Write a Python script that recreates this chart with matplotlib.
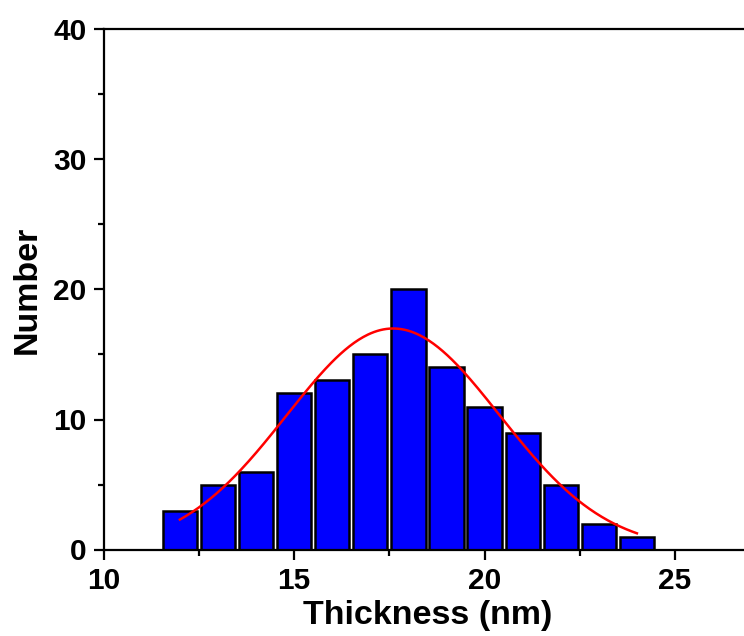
import numpy as np
import matplotlib
matplotlib.use("Agg")
import matplotlib.pyplot as plt
from matplotlib.ticker import MultipleLocator

plt.rcParams['font.family'] = ['Liberation Sans', 'DejaVu Sans']
plt.rcParams['font.weight'] = 'bold'

# Data
bin_centers = [12, 13, 14, 15, 16, 17, 18, 19, 20, 21, 22, 23, 24]
counts = [3, 5, 6, 12, 13, 15, 20, 14, 11, 9, 5, 2, 1]
fit_amp = 17.0
fit_center = 17.6
fit_sigma = 2.8
fit_range = (12.0, 24.0)

W, H = 744, 636
fig = plt.figure(figsize=(W / 100, H / 100), dpi=100)
left, bottom, top = 103.7, 549.5, 29.5
xmin, xmax = 10, 27
px_per_unit = (675.0 - 103.7) / 15.0
right = left + (xmax - xmin) * px_per_unit
ax = fig.add_axes([left / W, (H - bottom) / H, (right - left) / W, (bottom - top) / H])

ax.bar(bin_centers, counts, width=0.9, color='#0000ff', edgecolor='black', linewidth=1.8, zorder=2)

xf = np.linspace(fit_range[0], fit_range[1], 300)
yf = fit_amp * np.exp(-(xf - fit_center) ** 2 / (2 * fit_sigma ** 2))
ax.plot(xf, yf, color='#ff0000', lw=1.8, zorder=3)

ax.set_xlim(xmin, xmax)
ax.set_ylim(0, 40)
ax.xaxis.set_major_locator(MultipleLocator(5))
ax.xaxis.set_minor_locator(MultipleLocator(2.5))
ax.yaxis.set_major_locator(MultipleLocator(10))
ax.yaxis.set_minor_locator(MultipleLocator(5))
ax.tick_params(which='major', direction='out', length=7.5, width=1.6, labelsize=21.5, pad=5)
ax.tick_params(which='minor', direction='out', length=4.5, width=1.6)
for s in ['left', 'bottom', 'top', 'right']:
    ax.spines[s].set_linewidth(1.6)
for lab in ax.get_xticklabels() + ax.get_yticklabels():
    lab.set_fontweight('bold')

ax.set_xlabel('Thickness (nm)', fontsize=24.5, fontweight='bold', labelpad=4)
ax.set_ylabel('Number', fontsize=24.5, fontweight='bold', labelpad=7)

fig.savefig('out.png', dpi=100)
